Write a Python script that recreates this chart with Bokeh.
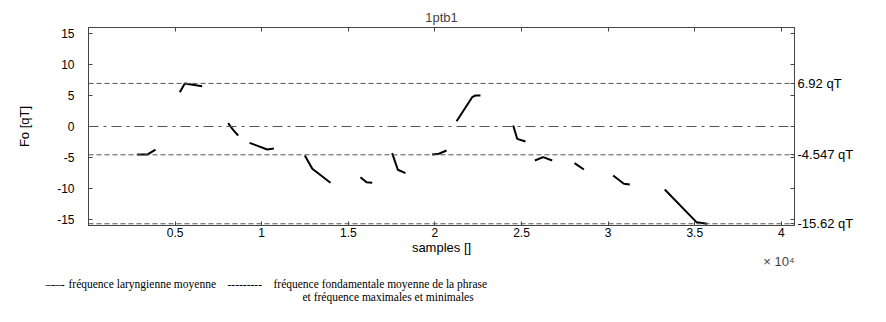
from bokeh.plotting import figure
from bokeh.layouts import column
from bokeh.models import Range1d, LinearAxis, FixedTicker, Span, Title
from bokeh.core.properties import value
from bokeh.embed import file_html
from bokeh.resources import INLINE

# ---------------- data ----------------
title_text = "1ptb1"
x_label = "samples []"
y_label = "Fo [qT]"
x_multiplier = "× 10⁴"

seg_x = [
    [2810, 3390, 3870],
    [5270, 5560, 6560],
    [8060, 8350, 8640],
    [9300, 10320, 10700],
    [12490, 12920, 13970],
    [15700, 16050, 16380],
    [17530, 17860, 18300],
    [19840, 20230, 20670],
    [21250, 22150, 22340, 22630],
    [24520, 24750, 25230],
    [25770, 26250, 26770],
    [28060, 28600],
    [30290, 30910, 31250],
    [33270, 35100, 35720],
]
seg_y = [
    [-4.50, -4.50, -3.70],
    [5.50, 6.92, 6.47],
    [0.53, -0.55, -1.44],
    [-2.62, -3.69, -3.53],
    [-4.65, -6.79, -9.04],
    [-8.14, -8.94, -9.04],
    [-4.28, -6.95, -7.49],
    [-4.49, -4.38, -3.85],
    [0.85, 4.70, 4.98, 4.98],
    [0.16, -1.98, -2.41],
    [-5.46, -4.92, -5.46],
    [-5.88, -6.90],
    [-7.87, -9.20, -9.31],
    [-10.11, -15.36, -15.62],
]

f_laryng_mean = 0.0
f_max = 6.92
f_mean = -4.547
f_min = -15.62

x_ticks = [5000, 10000, 15000, 20000, 25000, 30000, 35000, 40000]
x_tick_labels = ["0.5", "1", "1.5", "2", "2.5", "3", "3.5", "4"]
y_ticks = [-15, -10, -5, 0, 5, 10, 15]
y_tick_labels = ["-15", "-10", "-5", "0", "5", "10", "15"]

legend_texts = ["–-–-", "fréquence laryngienne moyenne", "---------",
                "fréquence fondamentale moyenne de la phrase",
                "et fréquence maximales et minimales"]

# ---------------- layout ----------------
W, H = 886, 322
H1 = 275                      # main figure height; legend strip below
X0, X1 = 0, 40760
Y0, Y1 = -15.9, 15.9
FL, FR, FT, FB = 88, 794, 27, 225
legend_px = [45, 68, 227, 273, 302]
legend_py = [283, 283, 283, 283, 296]

SANS = "Liberation Sans"
SERIF = "Liberation Serif"
AX = "#444444"

p = figure(width=W, height=H1, output_backend="svg", toolbar_location=None,
           x_range=Range1d(X0, X1), y_range=Range1d(Y0, Y1),
           x_axis_location=None, y_axis_location=None,
           min_border_left=FL, min_border_right=W - FR,
           min_border_top=FT, min_border_bottom=H1 - FB)
p.frame_align = False
p.xgrid.visible = False
p.ygrid.visible = False
p.outline_line_color = AX
p.background_fill_color = "white"
p.border_fill_color = "white"

p.title.text = title_text
p.title.align = "center"
p.title.text_font = SANS
p.title.text_font_size = "13px"
p.title.text_font_style = "normal"
p.title.standoff = 5


def style_axis(ax):
    ax.axis_line_color = AX
    ax.major_tick_line_color = AX
    ax.major_tick_in = 4
    ax.major_tick_out = 0
    ax.minor_tick_line_color = None
    ax.major_label_text_font = SANS
    ax.major_label_text_font_size = "12px"
    ax.major_label_text_color = "black"
    ax.axis_label_text_font = SANS
    ax.axis_label_text_font_style = "normal"
    ax.axis_label_text_font_size = "13px"
    ax.axis_label_text_color = "black"


bottom = LinearAxis(ticker=FixedTicker(ticks=x_ticks),
                    major_label_overrides=dict(zip(x_ticks, x_tick_labels)),
                    axis_label=x_label)
style_axis(bottom)
bottom.major_label_standoff = 2
bottom.axis_label_standoff = 0
p.add_layout(bottom, "below")

top = LinearAxis(ticker=FixedTicker(ticks=x_ticks),
                 major_label_overrides={t: "" for t in x_ticks})
style_axis(top)
top.major_label_text_font_size = "0px"
top.major_label_standoff = 0
p.add_layout(top, "above")

left = LinearAxis(ticker=FixedTicker(ticks=y_ticks),
                  major_label_overrides=dict(zip(y_ticks, y_tick_labels)),
                  axis_label=y_label)
style_axis(left)
left.major_label_standoff = 14
left.axis_label_standoff = 22
p.add_layout(left, "left")

ref_vals = [f_max, f_mean, f_min]
right_over = {t: "" for t in y_ticks}
for v in ref_vals:
    right_over[v] = f"{v:g} qT"
right = LinearAxis(ticker=FixedTicker(ticks=y_ticks + ref_vals),
                   major_label_overrides=right_over)
style_axis(right)
right.major_label_text_font_size = "13px"
right.major_label_standoff = 3
p.add_layout(right, "right")

for v in ref_vals:
    p.add_layout(Span(location=v, dimension="width", line_color="#555555",
                      line_width=1, line_dash="5 3"))
p.add_layout(Span(location=f_laryng_mean, dimension="width", line_color="#555555",
                  line_width=1, line_dash="10 5 3 5"))

p.multi_line(xs=seg_x, ys=seg_y, line_color="black", line_width=2)

p.add_layout(Title(text=x_multiplier, align="right", offset=0, standoff=-12,
                   text_font=SANS, text_font_size="13px", text_font_style="normal"), "below")

# legend strip below the chart (page-pixel coordinates)
p2 = figure(width=W, height=H - H1, output_backend="svg", toolbar_location=None,
            x_range=Range1d(0, W), y_range=Range1d(H, H1),
            x_axis_location=None, y_axis_location=None,
            min_border=0, min_border_left=0, min_border_right=0,
            min_border_top=0, min_border_bottom=0)
p2.frame_align = False
p2.xgrid.visible = False
p2.ygrid.visible = False
p2.outline_line_color = None
p2.background_fill_color = "white"
p2.border_fill_color = "white"
p2.text(x=legend_px, y=legend_py, text=legend_texts,
        text_font=value(SERIF), text_font_size=value("11.5px"),
        text_color="black", text_align="left", text_baseline="middle")

layout = column(p, p2, spacing=0)
open("out.html", "w").write(file_html(layout, INLINE))
